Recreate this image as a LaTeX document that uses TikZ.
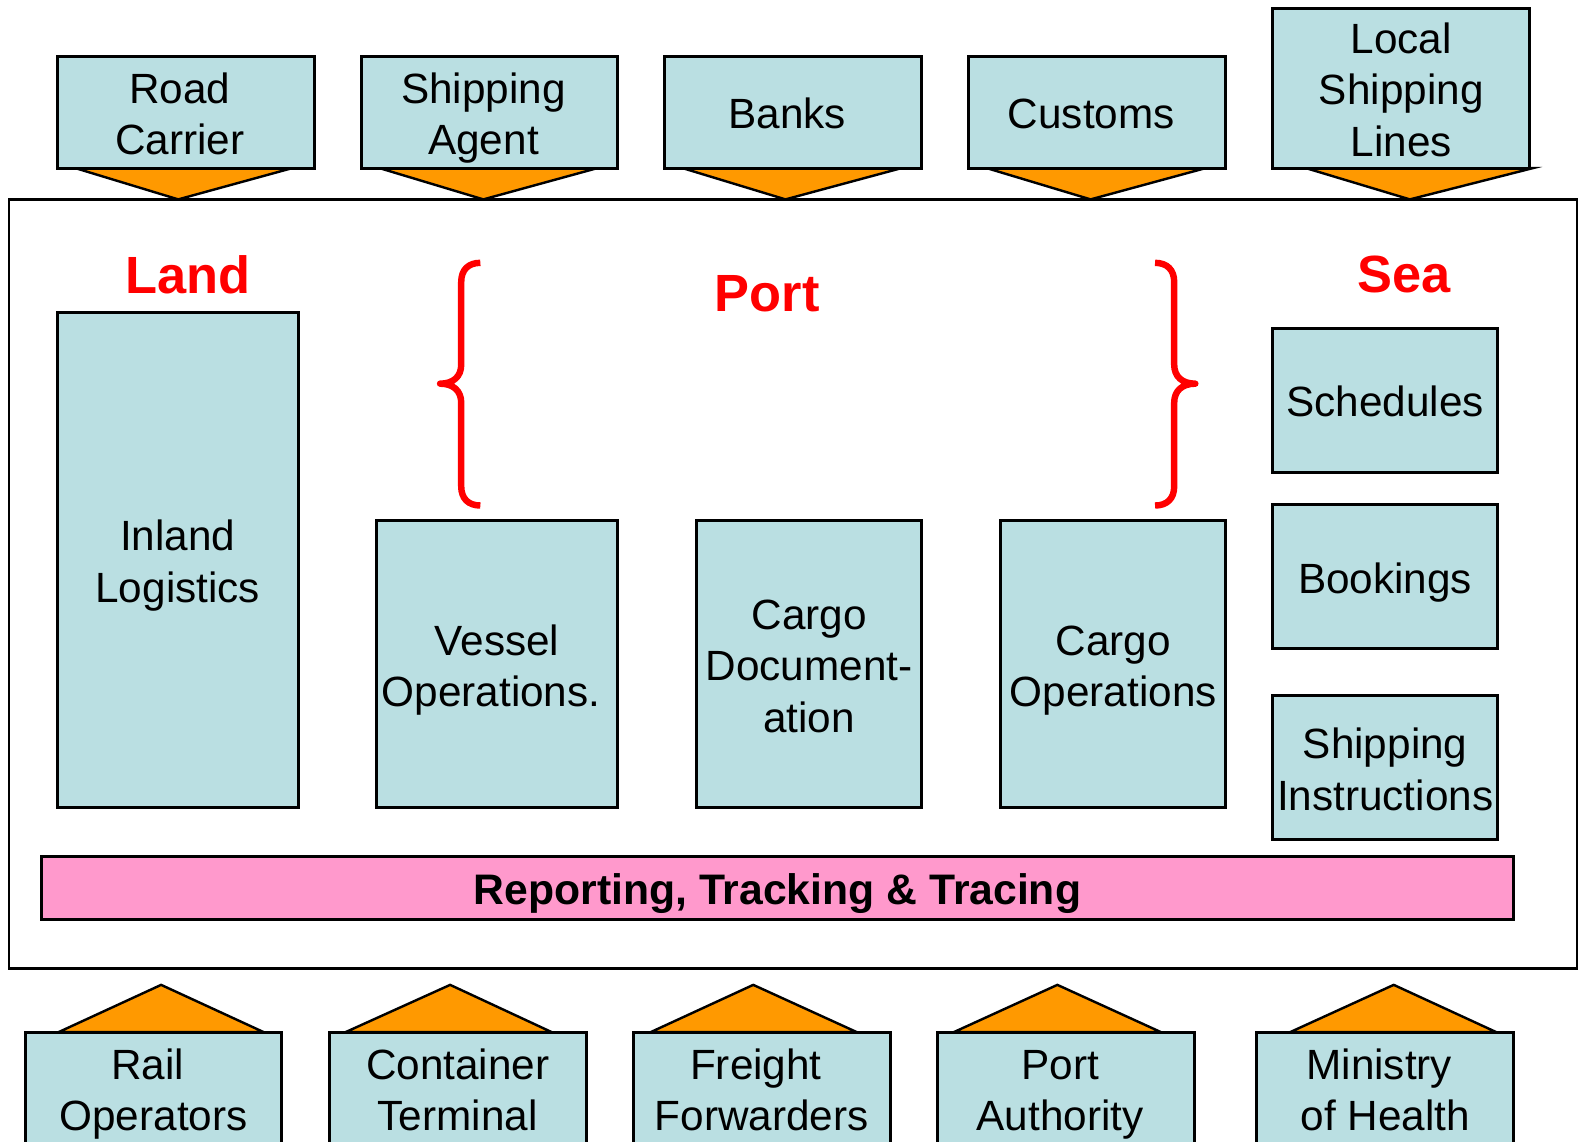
\documentclass[tikz,border=0pt]{standalone}
\usepackage{fontspec}
\setmainfont{Liberation Sans}
\definecolor{boxblue}{RGB}{186,223,226}
\definecolor{arroworange}{RGB}{255,153,0}
\definecolor{barpink}{RGB}{255,153,204}
\definecolor{labelred}{RGB}{255,0,0}
\newcommand\tsp{\kern0.278em}
\newcommand\firstln{\rule{0pt}{21pt}}
\begin{document}
\begin{tikzpicture}[x=0.5pt,y=-0.5pt,
  box/.style={draw, line width=1.5pt, fill=boxblue, align=center, inner sep=0pt,
    font=\fontsize{21}{25.5}\selectfont,
    execute at begin node={\rule{0pt}{21pt}},
    execute at end node={\rule[-4.5pt]{0pt}{4.5pt}}},
  tri/.style={draw, line width=1.2pt, fill=arroworange, line join=miter},
  region/.style={text=labelred, font=\fontsize{26}{30}\selectfont\bfseries, inner sep=0pt},
  brace/.style={draw=labelred, line width=3.2pt, line join=round}
]
\useasboundingbox (0,0) rectangle (1568,1134);
\clip (0,0) rectangle (1568,1134);

% outer frame
\node[draw, line width=1.3pt, fill=white, minimum width=778.5pt, minimum height=382pt, inner sep=0pt] (frame) at (787.5,580) {};

% top triangles
\draw[tri] (75,167) -- (177,198) -- (290,167) -- cycle;
\draw[tri] (377,167) -- (480,198) -- (593,167) -- cycle;
\draw[tri] (678,167) -- (780,198) -- (895,167) -- cycle;
\draw[tri] (980,167) -- (1083,198) -- (1197,167) -- cycle;
\draw[tri] (1297,167) -- (1400,198) -- (1522,167) -- cycle;

% bottom triangles
\draw[tri] (58,1025) -- (160,978) -- (262,1025) -- cycle;
\draw[tri] (343,1025) -- (447,978) -- (548,1025) -- cycle;
\draw[tri] (646,1025) -- (748,978) -- (851,1025) -- cycle;
\draw[tri] (947,1025) -- (1050,978) -- (1153,1025) -- cycle;
\draw[tri] (1281,1025) -- (1384,978) -- (1486,1025) -- cycle;

% top boxes
\node[box, minimum width=127.5pt, minimum height=55.5pt] (road) at (184.5,111.5) {\firstln Road\tsp\\Carrier\tsp};
\node[box, minimum width=127pt, minimum height=55.5pt] (agent) at (486,111.5) {\firstln Shipping\tsp\\Agent\tsp};
\node[box, minimum width=127.5pt, minimum height=55.5pt] (banks) at (787.5,111.5) {Banks\tsp};
\node[box, minimum width=127.5pt, minimum height=55.5pt] (customs) at (1089.5,111.5) {Customs\tsp};
\node[box, minimum width=127.5pt, minimum height=79.5pt] (local) at (1391.5,87.5) {\firstln Local\\Shipping\\Lines};

% bottom boxes
\node[box, minimum width=127.5pt, minimum height=55.5pt] (rail) at (152.5,1080.5) {\firstln Rail\tsp\\Operators};
\node[box, minimum width=127.5pt, minimum height=55.5pt] (container) at (454.5,1080.5) {\firstln Container\\Terminal};
\node[box, minimum width=127.5pt, minimum height=55.5pt] (freight) at (756.5,1080.5) {\firstln Freight\tsp\\Forwarders};
\node[box, minimum width=127.5pt, minimum height=55.5pt] (authority) at (1058.5,1080.5) {\firstln Port\tsp\\Authority\tsp};
\node[box, minimum width=127.5pt, minimum height=55.5pt] (health) at (1375.5,1080.5) {\firstln Ministry\tsp\\of Health};

% region labels
\node[region] (land) at (187,273) {Land};
\node[region] (port) at (762,292) {Port};
\node[region] (sea) at (1394,273) {Sea};

% braces
\draw[brace] (477,261) .. controls (465,261) and (458,268) .. (458,280) -- (458,362)
  .. controls (458,374) and (450,381) .. (437,381)
  .. controls (450,381) and (458,388) .. (458,400) -- (458,483)
  .. controls (458,495) and (465,502) .. (477,502);
\draw[brace] (1147,261) .. controls (1159,261) and (1166,268) .. (1166,280) -- (1166,362)
  .. controls (1166,374) and (1174,381) .. (1187,381)
  .. controls (1174,381) and (1166,388) .. (1166,400) -- (1166,483)
  .. controls (1166,495) and (1159,502) .. (1147,502);

% inner boxes
\node[box, minimum width=119.5pt, minimum height=246pt] (inland) at (176.5,556) {\firstln Inland\\Logistics};
\node[box, minimum width=119.5pt, minimum height=142.5pt] (vessel) at (493.5,659.5) {\firstln Vessel\\Operations.\tsp};
\node[box, minimum width=111.5pt, minimum height=142.5pt] (cargodoc) at (803.5,659.5) {\firstln Cargo\\Document-\\ation};
\node[box, minimum width=111.5pt, minimum height=142.5pt] (cargoops) at (1105.5,659.5) {\firstln Cargo\\Operations};
\node[box, minimum width=111.5pt, minimum height=71.5pt] (schedules) at (1375.5,397.5) {Schedules};
\node[box, minimum width=111.5pt, minimum height=71.5pt] (bookings) at (1375.5,572.5) {Bookings};
\node[box, minimum width=111.5pt, minimum height=71.5pt] (instructions) at (1375.5,762.5) {\firstln Shipping\\Instructions};

% reporting bar
\node[box, fill=barpink, minimum width=731pt, minimum height=31pt, font=\fontsize{21.2}{25}\selectfont\bfseries] (report) at (772,882) {Reporting, Tracking \& Tracing};
\end{tikzpicture}
\end{document}
